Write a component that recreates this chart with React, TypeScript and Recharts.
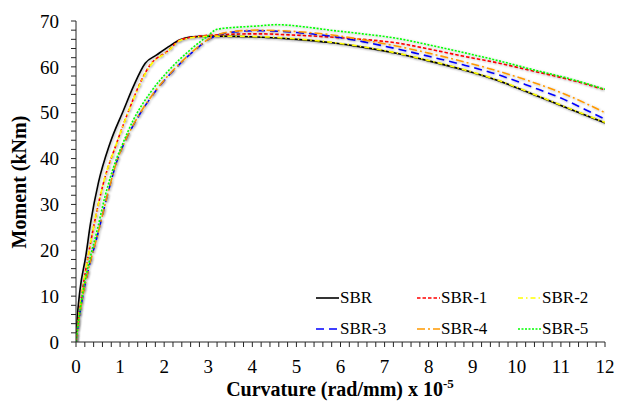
import React from 'react';
import { LineChart, Line, XAxis, YAxis } from 'recharts';

// moment–curvature curves (x in rad/mm x 1e-5, y in kNm)
const sbrX = [0, 0.02, 0.09, 0.22, 0.33, 0.51, 0.77, 1.08, 1.3, 1.57, 1.83, 2.1, 2.36, 2.59, 3.05, 4.1, 5.0, 5.77, 6.5, 7.29, 8.0, 8.8, 9.6, 10.32, 11.07, 12];
const sbrY = [0, 4, 11.3, 18.6, 25.9, 34.8, 43.3, 50.6, 55.7, 60.8, 62.6, 64.4, 65.9, 66.5, 66.7, 66.5, 66.0, 65.3, 64.3, 62.9, 61.3, 59.3, 56.9, 54.2, 51.3, 47.8];

const sbr1X = [0, 0.05, 0.15, 0.3, 0.45, 0.62, 0.92, 1.23, 1.45, 1.68, 2.06, 2.4, 3.05, 4.1, 5.0, 5.77, 6.5, 7.29, 8.0, 8.8, 9.6, 10.32, 11.2, 12];
const sbr1Y = [0, 4.5, 11.5, 20, 27.5, 34.6, 43.3, 51.3, 56.4, 60.4, 63.3, 66.0, 66.9, 67.2, 66.9, 66.5, 66.0, 65.2, 63.9, 62.3, 60.8, 59.2, 57.2, 55.0];

const sbr2X = [0, 0.05, 0.15, 0.3, 0.45, 0.62, 0.92, 1.23, 1.45, 1.68, 2.06, 2.4, 3.05, 4.1, 5.0, 5.77, 6.5, 7.29, 8.0, 8.8, 9.6, 10.32, 11.07, 12];
const sbr2Y = [0, 4.5, 11.5, 20, 27.5, 34.6, 43.3, 51.2, 56.2, 60.2, 63.2, 65.9, 66.7, 66.6, 66.1, 65.4, 64.4, 63.0, 61.4, 59.4, 57.0, 54.3, 51.4, 47.9];

const sbr3X = [0, 0.05, 0.15, 0.3, 0.48, 0.7, 0.93, 1.1, 1.38, 1.83, 2.29, 2.74, 3.05, 3.4, 4.1, 5.0, 5.77, 6.5, 7.29, 8.0, 8.8, 9.6, 10.32, 11.0, 11.57, 12];
const sbr3Y = [0, 3.8, 9.8, 16.5, 23, 31.5, 39.5, 43.5, 48.6, 55.0, 60.0, 64.0, 66.2, 67.4, 67.9, 67.5, 66.7, 65.5, 63.9, 62.3, 60.4, 58.2, 55.7, 53.2, 50.6, 48.6];

const sbr4X = [0, 0.05, 0.15, 0.3, 0.48, 0.7, 0.93, 1.1, 1.38, 1.83, 2.29, 2.74, 3.05, 3.4, 4.1, 5.0, 5.77, 6.5, 7.29, 8.0, 8.8, 9.6, 10.32, 11.2, 12];
const sbr4Y = [0, 3.8, 9.8, 16.5, 23, 31.5, 39.5, 43.5, 48.7, 55.1, 60.1, 64.1, 66.3, 67.5, 68.0, 67.7, 67.0, 65.9, 64.5, 63.0, 61.1, 59.0, 56.8, 53.6, 50.0];

const sbr5X = [0, 0.05, 0.15, 0.3, 0.47, 0.66, 0.92, 1.04, 1.3, 1.68, 2.14, 2.59, 2.97, 3.2, 3.6, 4.1, 4.56, 5.2, 5.77, 6.5, 7.29, 8.0, 8.8, 9.6, 10.32, 11.2, 12];
const sbr5Y = [0, 4, 10.5, 17.5, 24, 31.8, 40, 42.8, 48.4, 54.3, 59.6, 63.7, 66.6, 68.2, 68.6, 68.9, 69.2, 68.7, 68.0, 67.2, 66.2, 64.8, 63.1, 61.3, 59.5, 57.4, 55.1];

const xMajor = [0, 1, 2, 3, 4, 5, 6, 7, 8, 9, 10, 11, 12];
const yMajor = [0, 10, 20, 30, 40, 50, 60, 70];

const xTicks = Array.from({ length: 61 }, (_, i) => Math.round(i * 2) / 10);
const yTicks = Array.from({ length: 36 }, (_, i) => i * 2);

const zip = (xs: number[], ys: number[]) => xs.map((x, i) => ({ x, y: ys[i] }));

const series = [
  { name: 'SBR', data: zip(sbrX, sbrY), color: '#000000', dash: undefined as string | undefined },
  { name: 'SBR-1', data: zip(sbr1X, sbr1Y), color: '#FF0000', dash: '3.5 2' },
  { name: 'SBR-2', data: zip(sbr2X, sbr2Y), color: '#FFFF00', dash: '5 3 1.5 3' },
  { name: 'SBR-3', data: zip(sbr3X, sbr3Y), color: '#0000FF', dash: '8 5' },
  { name: 'SBR-4', data: zip(sbr4X, sbr4Y), color: '#FF9900', dash: '8 3 2 3' },
  { name: 'SBR-5', data: zip(sbr5X, sbr5Y), color: '#00FF00', dash: '2 1.5' },
];

const FONT = '"Liberation Serif", "Times New Roman", Times, serif';
const AXIS = '#262626';

const isMajor = (v: number, majors: number[]) => majors.some(m => Math.abs(m - v) < 1e-6);

// legend sits inside the plot, bottom right, 3 columns x 2 rows
const LegendBox = () => (
  <div style={{ position: 'absolute', left: 316, top: 287, display: 'grid', gridTemplateColumns: '101px 101px 101px', rowGap: 9, fontFamily: FONT, fontSize: 17, color: '#000', lineHeight: '22px' }}>
    {series.map(s => (
      <div key={s.name} style={{ display: 'flex', alignItems: 'center', height: 22 }}>
        <svg width={23} height={6} style={{ marginRight: 1 }}>
          <line x1={0} y1={3} x2={23} y2={3} stroke={s.color} strokeWidth={1.6} strokeDasharray={s.dash} />
        </svg>
        <span style={{ fontFamily: FONT }}>{s.name}</span>
      </div>
    ))}
  </div>
);

const XLabel = () => (
  <text x={340} y={396} textAnchor="middle" fontFamily={FONT} fontSize={20} fontWeight="bold" fill="#000">
    Curvature (rad/mm) x 10<tspan dy={-8} fontSize={13}>-5</tspan>
  </text>
);

const YLabel = () => (
  <text x={0} y={0} transform="translate(26,182) rotate(-90)" textAnchor="middle" fontFamily={FONT} fontSize={20} fontWeight="bold" fill="#000">
    Moment (kNm)
  </text>
);

export default function App() {
  return (
    <div style={{ position: 'absolute', left: 0, top: 0, width: 617, height: 401, background: '#fff', fontFamily: FONT }}>
      <style>{'.recharts-line-curve { filter: url(#halo); }'}</style>
      <svg width={0} height={0} style={{ position: 'absolute' }}>
        <defs>
          <filter id="halo" x="-5%" y="-5%" width="110%" height="110%">
            <feDropShadow dx={0.8} dy={0.8} stdDeviation={1.1} floodColor="#000" floodOpacity={0.3} />
          </filter>
        </defs>
      </svg>
      <LineChart width={617} height={401} margin={{ top: 21, right: 12, left: 0, bottom: 0 }}>
        <XAxis
          type="number"
          dataKey="x"
          domain={[0, 12]}
          ticks={xTicks}
          interval={0}
          allowDataOverflow
          height={59}
          stroke={AXIS}
          tickSize={5}
          tickMargin={13}
          tick={{ fill: '#000', fontSize: 19, fontFamily: FONT }}
          tickFormatter={(v: number) => (isMajor(v, xMajor) ? String(Math.round(v)) : '')}
          label={<XLabel />}
        />
        <YAxis
          type="number"
          dataKey="y"
          domain={[0, 70]}
          ticks={yTicks}
          interval={0}
          allowDataOverflow
          width={76}
          stroke={AXIS}
          tickSize={5}
          tickMargin={12}
          tick={{ fill: '#000', fontSize: 19, fontFamily: FONT }}
          tickFormatter={(v: number) => (isMajor(v, yMajor) ? String(v) : '')}
          label={<YLabel />}
        />
        {series.map(s => (
          <Line
            key={s.name}
            data={s.data}
            dataKey="y"
            name={s.name}
            type="monotone"
            stroke={s.color}
            strokeWidth={1.6}
            strokeDasharray={s.dash}
            dot={false}
            activeDot={false}
            isAnimationActive={false}
          />
        ))}
      </LineChart>
      <LegendBox />
    </div>
  );
}
